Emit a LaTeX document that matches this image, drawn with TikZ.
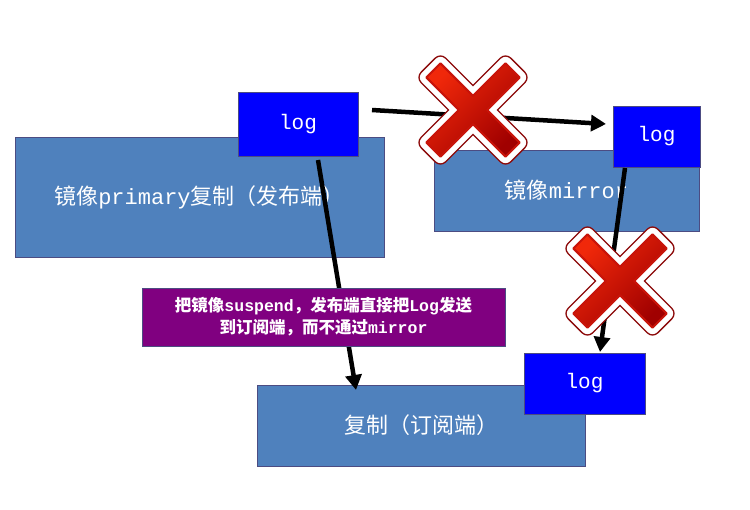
\documentclass[tikz,border=0pt]{standalone}
\usepackage{fontspec}
\usetikzlibrary{arrows.meta}
\setmainfont{Liberation Mono}
\newfontfamily\cjk{Noto Sans CJK SC}
\newcommand{\C}[1]{{\cjk #1}}
\begin{document}
\begin{tikzpicture}[x=1pt,y=-1pt,
  box/.style={draw=blue!30!black!70,line width=1pt,fill={rgb,255:red,79;green,129;blue,189},text=white,inner sep=0pt,font=\fontsize{22}{26}\selectfont},
  logb/.style={draw=blue!30!black!70,line width=1pt,fill={rgb,255:red,0;green,0;blue,255},text=white,inner sep=0pt,font=\fontsize{21}{24}\selectfont},
  arr/.style={line width=4.5pt,-{Triangle[length=15pt,width=16pt]}},
  ]
\useasboundingbox (0,0) rectangle (750,509);
\tikzset{xmark/.pic={
  \path[rotate=45,draw={rgb,255:red,140;green,10;blue,10},line width=16pt,line join=round]
   (-10,-56) -- (10,-56) -- (10,-10) -- (56,-10) -- (56,10) -- (10,10) -- (10,56) -- (-10,56) -- (-10,10) -- (-56,10) -- (-56,-10) -- (-10,-10) -- cycle;
  \path[rotate=45,draw=white,line width=13pt,line join=round]
   (-10,-56) -- (10,-56) -- (10,-10) -- (56,-10) -- (56,10) -- (10,10) -- (10,56) -- (-10,56) -- (-10,10) -- (-56,10) -- (-56,-10) -- (-10,-10) -- cycle;
  \path[rotate=45,top color={rgb,255:red,240;green,40;blue,10},bottom color={rgb,255:red,160;green,0;blue,0},shading angle=45,draw={rgb,255:red,200;green,20;blue,10},line width=2pt,line join=round]
   (-10,-56) -- (10,-56) -- (10,-10) -- (56,-10) -- (56,10) -- (10,10) -- (10,56) -- (-10,56) -- (-10,10) -- (-56,10) -- (-56,-10) -- (-10,-10) -- cycle;
}}
\node[box,minimum width=369pt,minimum height=120pt] (prim) at (199.5,197) {\C{镜像}primary\C{复制（发布端）}};
\node[box,minimum width=265pt,minimum height=81pt] (mir) at (566.5,190.5) {\C{镜像}mirror};
\node[box,minimum width=328pt,minimum height=81pt] (sub) at (421,425.5) {\C{复制（订阅端）}};
\node[logb,minimum width=120pt,minimum height=64pt] (l1) at (298,124) {log};
\node[logb,minimum width=87pt,minimum height=61pt] (l2) at (656.5,136.5) {log};
\node[logb,minimum width=121pt,minimum height=61pt] (l3) at (584.5,383.5) {log};
\coordinate (a1s) at (372,110); \coordinate (a1e) at (606,124);
\coordinate (a2s) at (318,160); \coordinate (a2e) at (356,390);
\coordinate (a3s) at (625,168); \coordinate (a3e) at (600,352);
\draw[arr] (a1s) -- (a1e);
\draw[arr] (a2s) -- (a2e);
\draw[arr] (a3s) -- (a3e);
\node[draw=blue!30!black!70,line width=1pt,fill={rgb,255:red,128;green,0;blue,128},text=white,minimum width=363pt,minimum height=58pt,inner sep=0pt,align=center,font=\fontsize{16.5}{22}\selectfont\bfseries] (lab) at (323.5,317) {{\cjk\bfseries 把镜像}suspend{\cjk\bfseries ，发布端直接把}Log{\cjk\bfseries 发送}\\{\cjk\bfseries 到订阅端，而不通过}mirror};
\pic at (473,110) {xmark};
\pic at (620,281) {xmark};
\end{tikzpicture}
\end{document}
